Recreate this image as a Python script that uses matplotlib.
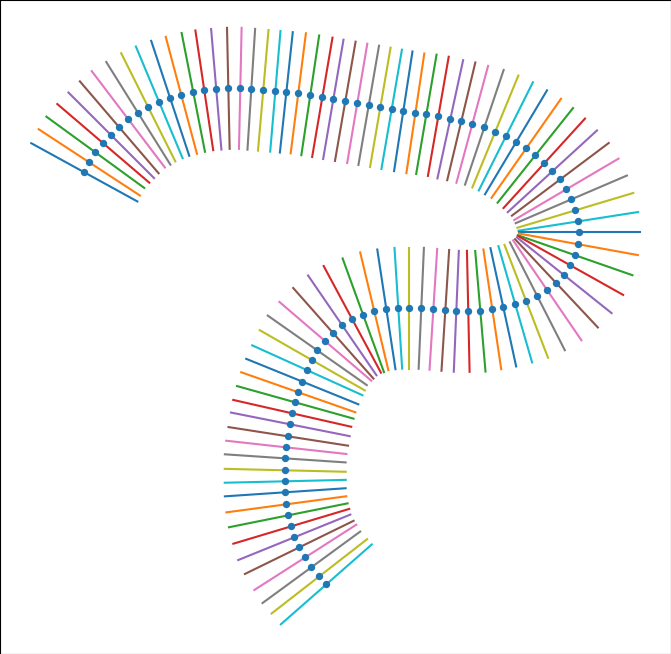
import matplotlib
matplotlib.use("Agg")
import matplotlib.pyplot as plt
from matplotlib.ticker import MultipleLocator
import numpy as np

# curve samples (data units)
x = [0.527, 0.568, 0.618, 0.684, 0.750, 0.816, 0.891, 0.974, 1.056, 1.147,
     1.238, 1.330, 1.429, 1.520, 1.619, 1.719, 1.818, 1.909, 2.008, 2.108,
     2.199, 2.298, 2.397, 2.497, 2.588, 2.687, 2.786, 2.881, 2.977, 3.071,
     3.167, 3.267, 3.358, 3.457, 3.556, 3.647, 3.738, 3.838, 3.929, 4.016,
     4.100, 4.185, 4.260, 4.334, 4.401, 4.467, 4.517, 4.558, 4.591, 4.616,
     4.624, 4.616, 4.591, 4.550, 4.500, 4.435, 4.359, 4.277, 4.185, 4.094,
     3.995, 3.904, 3.805, 3.705, 3.606, 3.515, 3.416, 3.316, 3.217, 3.126,
     3.027, 2.927, 2.836, 2.745, 2.662, 2.588, 2.522, 2.455, 2.414, 2.373,
     2.331, 2.298, 2.273, 2.248, 2.232, 2.215, 2.199, 2.190, 2.190, 2.190,
     2.190, 2.199, 2.215, 2.240, 2.265, 2.306, 2.356, 2.406, 2.472, 2.530]
y = [4.766, 4.873, 4.981, 5.077, 5.163, 5.249, 5.335, 5.399, 5.464, 5.517,
     5.560, 5.592, 5.624, 5.646, 5.657, 5.667, 5.667, 5.657, 5.646, 5.635,
     5.624, 5.614, 5.592, 5.571, 5.549, 5.528, 5.506, 5.485, 5.464, 5.442,
     5.421, 5.399, 5.388, 5.367, 5.335, 5.313, 5.281, 5.249, 5.204, 5.152,
     5.088, 5.024, 4.948, 4.863, 4.777, 4.691, 4.584, 4.476, 4.358, 4.240,
     4.122, 3.994, 3.876, 3.768, 3.661, 3.575, 3.500, 3.436, 3.382, 3.350,
     3.318, 3.296, 3.275, 3.275, 3.275, 3.285, 3.296, 3.307, 3.307, 3.307,
     3.296, 3.275, 3.232, 3.189, 3.124, 3.039, 2.953, 2.856, 2.749, 2.642,
     2.521, 2.406, 2.298, 2.180, 2.062, 1.933, 1.815, 1.697, 1.569, 1.451,
     1.333, 1.204, 1.086, 0.968, 0.850, 0.742, 0.635, 0.528, 0.431, 0.345]

half_len = 60.5  # normal half-length in pixels

fig = plt.figure(figsize=(6.71, 6.54), dpi=100)
ax = fig.add_axes([0, 0, 1, 1])
ax.set_xlim(-0.171, 5.383)
ax.set_ylim(-0.402, 6.615)
ax.xaxis.set_major_locator(MultipleLocator(1))
ax.yaxis.set_major_locator(MultipleLocator(1))

# points on the curve, drawn above the normals
ax.plot(x, y, 'o', color='C0', markersize=5.3, markeredgewidth=0, zorder=3)

# normals, built in display space so they look perpendicular
pts = ax.transData.transform(np.column_stack([x, y]))
n = len(pts)
tang = np.zeros_like(pts)
for i in range(n):
    a = max(i - 2, 0)
    b = min(i + 2, n - 1)
    tang[i] = pts[b] - pts[a]
tang /= np.linalg.norm(tang, axis=1)[:, None]
norm = np.column_stack([tang[:, 1], -tang[:, 0]])
inv = ax.transData.inverted()
p0 = inv.transform(pts - half_len * norm)
p1 = inv.transform(pts + half_len * norm)

for i in range(n):
    ax.plot([p0[i, 0], p1[i, 0]], [p0[i, 1], p1[i, 1]],
            color=f'C{i % 10}', linewidth=1.5, zorder=2)

ax.set_xticklabels([])
ax.set_yticklabels([])

plt.savefig('out.png', dpi=100)
